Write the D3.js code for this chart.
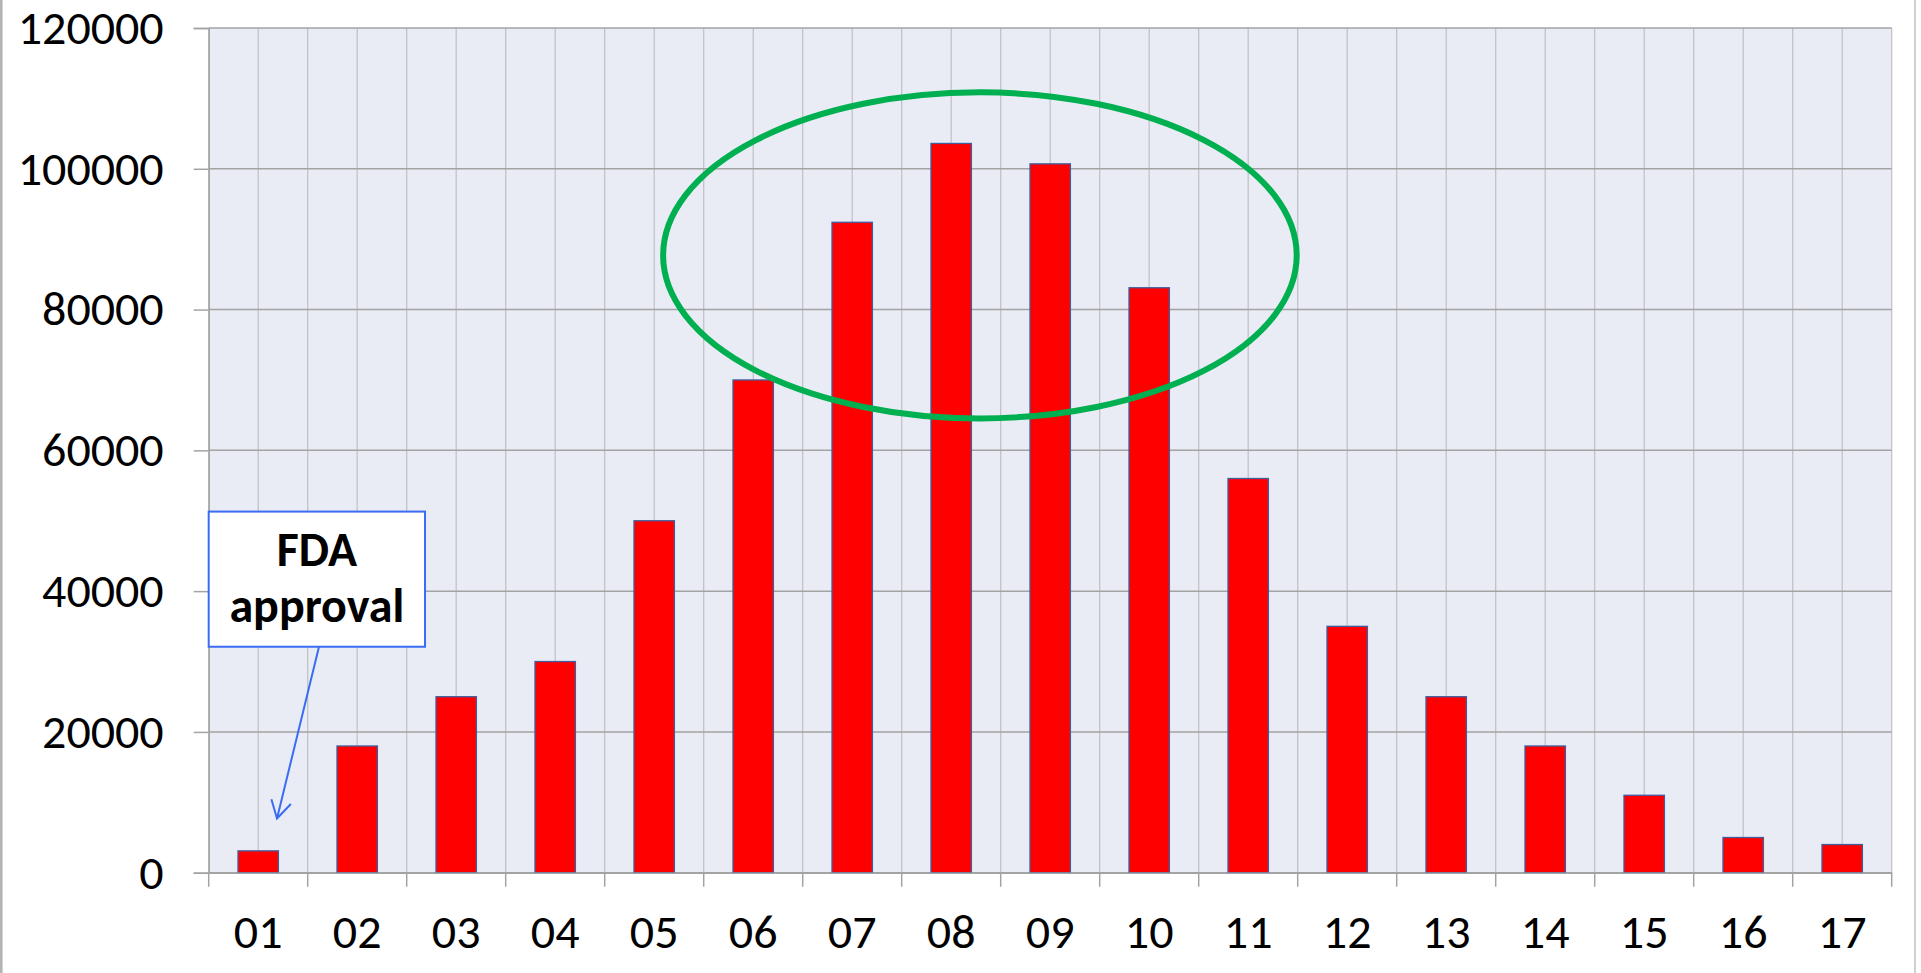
<!DOCTYPE html>
<html>
<head>
<meta charset="utf-8">
<script src="https://cdn.jsdelivr.net/npm/d3@7"></script>
<style>
    body { margin: 0; background: #fff; }
    svg { display: block; }
    text { font-family: Carlito, Calibri, 'Open Sans', sans-serif; }
</style>
</head>
<body>
<script>
const categories = ['01', '02', '03', '04', '05', '06', '07', '08', '09',
    '10', '11', '12', '13', '14', '15', '16', '17'];
const values = [3100, 18000, 25000, 30000, 50000, 70000, 92400, 103600, 100700,
    83100, 56000, 35000, 25000, 18000, 11000, 5000, 4000];
const yTicks = [0, 20000, 40000, 60000, 80000, 100000, 120000];
const boxLines = ['FDA', 'approval'];

// annotations in data units (band index / value)
const fdaBox = { x0: 0, x1: 2.185, y0: 32100, y1: 51300 };
const fdaArrow = { from: [1.114, 32100], to: [0.69, 7700] };
const peakEllipse = { cx: 7.79, cy: 87700, rx: 3.2, ry: 23160 };

const W = 1921, H = 973;
const M = { left: 208.7, right: 1891.7, top: 28, bottom: 872.7 };
const FONT = "Carlito, Calibri, 'Open Sans', sans-serif";

const svg = d3.select('body').append('svg')
    .attr('width', W)
    .attr('height', H);

svg.append('rect').attr('width', W).attr('height', H).attr('fill', '#fff');
svg.append('line')
    .attr('x1', 1.3).attr('x2', 1.3).attr('y1', 0).attr('y2', H)
    .attr('stroke', '#b4b4b4').attr('stroke-width', 2.6);
svg.append('line')
    .attr('x1', 1915).attr('x2', 1915).attr('y1', 0).attr('y2', H)
    .attr('stroke', '#d0d0d0').attr('stroke-width', 2);

const x = d3.scaleBand()
    .domain(categories)
    .range([M.left, M.right])
    .paddingInner(0)
    .paddingOuter(0);
const xi = d3.scaleLinear().domain([0, categories.length]).range([M.left, M.right]);
const y = d3.scaleLinear().domain([0, 120000]).range([M.bottom, M.top]);

// plot background
svg.append('rect')
    .attr('x', M.left).attr('y', M.top)
    .attr('width', M.right - M.left).attr('height', M.bottom - M.top)
    .attr('fill', '#e9ebf5');

// vertical grid: category boundaries and centres
const vLines = d3.range(0, categories.length * 2 + 1).map(i => i / 2);
svg.append('g').selectAll('line')
    .data(vLines)
    .join('line')
    .attr('x1', d => xi(d)).attr('x2', d => xi(d))
    .attr('y1', M.top).attr('y2', M.bottom)
    .attr('stroke', '#bfbfc4')
    .attr('stroke-width', 1.2);

// horizontal grid
svg.append('g').selectAll('line')
    .data(yTicks)
    .join('line')
    .attr('x1', M.left).attr('x2', M.right)
    .attr('y1', d => y(d)).attr('y2', d => y(d))
    .attr('stroke', '#a3a3a3')
    .attr('stroke-width', 1.5);

// bars
const barW = x.bandwidth() / 2.45;
svg.append('g').selectAll('rect')
    .data(values)
    .join('rect')
    .attr('x', (d, i) => x(categories[i]) + (x.bandwidth() - barW) / 2)
    .attr('y', d => y(d))
    .attr('width', barW)
    .attr('height', d => y(0) - y(d))
    .attr('fill', '#ff0000')
    .attr('stroke', '#3f5e9e')
    .attr('stroke-width', 1.3);

// y axis
const yAxis = svg.append('g')
    .attr('transform', `translate(${M.left},0)`)
    .call(d3.axisLeft(y).tickValues(yTicks).tickSize(15).tickPadding(30).tickFormat(d3.format('d')));
yAxis.select('.domain').attr('stroke', '#a3a3a3').attr('stroke-width', 1.5);
yAxis.selectAll('.tick line').attr('stroke', '#a3a3a3').attr('stroke-width', 1.5);
yAxis.selectAll('.tick text')
    .attr('font-size', 48)
    .attr('fill', '#000')
    .style('font-family', FONT);

// x axis: labels at centres, ticks at boundaries
const xAxis = svg.append('g')
    .attr('transform', `translate(0,${M.bottom})`)
    .call(d3.axisBottom(x).tickSize(0).tickPadding(41));
xAxis.select('.domain').attr('stroke', '#a3a3a3').attr('stroke-width', 1.5);
xAxis.selectAll('.tick text')
    .attr('font-size', 48)
    .attr('fill', '#000')
    .style('font-family', FONT);
xAxis.append('g').selectAll('line')
    .data(d3.range(0, categories.length + 1))
    .join('line')
    .attr('x1', d => xi(d)).attr('x2', d => xi(d))
    .attr('y1', 0).attr('y2', 14)
    .attr('stroke', '#a3a3a3')
    .attr('stroke-width', 1.5);

// green ellipse around the peak
svg.append('ellipse')
    .attr('cx', xi(peakEllipse.cx))
    .attr('cy', y(peakEllipse.cy))
    .attr('rx', xi(peakEllipse.rx) - xi(0))
    .attr('ry', y(0) - y(peakEllipse.ry))
    .attr('fill', 'none')
    .attr('stroke', '#00b050')
    .attr('stroke-width', 6);

// FDA approval callout
const bx0 = xi(fdaBox.x0), bx1 = xi(fdaBox.x1);
const by0 = y(fdaBox.y1), by1 = y(fdaBox.y0);
svg.append('rect')
    .attr('x', bx0).attr('y', by0)
    .attr('width', bx1 - bx0).attr('height', by1 - by0)
    .attr('fill', '#fff')
    .attr('stroke', '#3a6cf4')
    .attr('stroke-width', 2);
svg.append('g').selectAll('text')
    .data(boxLines)
    .join('text')
    .attr('x', (bx0 + bx1) / 2)
    .attr('y', (d, i) => by0 + 54 + i * 56)
    .attr('text-anchor', 'middle')
    .attr('font-size', 48)
    .attr('font-weight', 'bold')
    .attr('fill', '#000')
    .text(d => d);

const [ax0, ay0] = [xi(fdaArrow.from[0]), y(fdaArrow.from[1])];
const [ax1, ay1] = [xi(fdaArrow.to[0]), y(fdaArrow.to[1])];
const ang = Math.atan2(ay0 - ay1, ax0 - ax1);
const head = 20, spread = Math.PI / 6;
const arrow = d3.path();
arrow.moveTo(ax0, ay0);
arrow.lineTo(ax1, ay1);
arrow.moveTo(ax1 + head * Math.cos(ang - spread), ay1 + head * Math.sin(ang - spread));
arrow.lineTo(ax1, ay1);
arrow.lineTo(ax1 + head * Math.cos(ang + spread), ay1 + head * Math.sin(ang + spread));
svg.append('path')
    .attr('d', arrow.toString())
    .attr('fill', 'none')
    .attr('stroke', '#3a6cf4')
    .attr('stroke-width', 2);
</script>
</body>
</html>
